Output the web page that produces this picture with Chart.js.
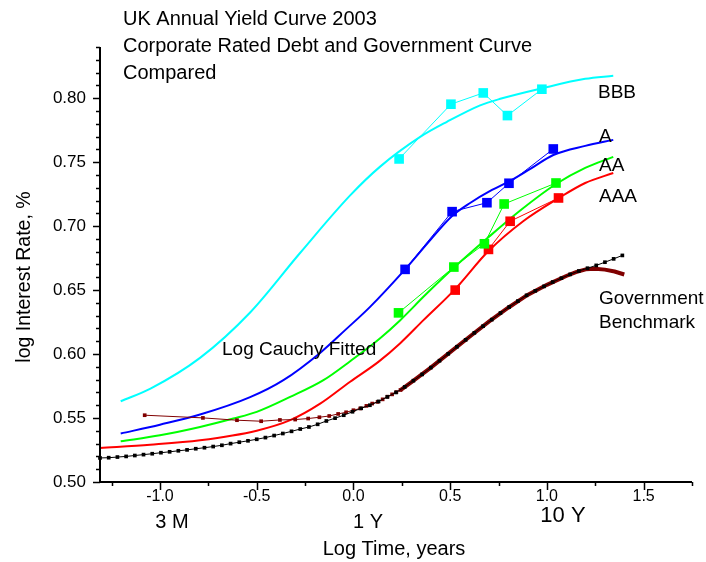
<!DOCTYPE html>
<html>
<head>
<meta charset="utf-8">
<title>UK Annual Yield Curve 2003</title>
<script src="https://cdn.jsdelivr.net/npm/chart.js@4.4.1/dist/chart.umd.min.js"></script>
<style>
  html, body { margin: 0; padding: 0; background: #ffffff; }
  #wrap { width: 706px; height: 562px; }
</style>
</head>
<body>
<div id="wrap"><canvas id="chart" width="706" height="562"></canvas></div>
<script>
// ---- data: log10(maturity in years) vs log10(yield %) ----

// Government benchmark curve (dotted black)
const govX = [-1.310, -1.265, -1.220, -1.175, -1.130, -1.085, -1.040, -0.995, -0.950, -0.905,
              -0.860, -0.815, -0.770, -0.725, -0.680, -0.635, -0.590, -0.545, -0.500, -0.455,
              -0.410, -0.365, -0.320, -0.275, -0.230, -0.185, -0.140, -0.095, -0.050, -0.005,
               0.040,  0.085,  0.130,  0.175,  0.220,  0.265,  0.310,  0.355,  0.400,  0.445,
               0.490,  0.535,  0.580,  0.625,  0.670,  0.715,  0.760,  0.805,  0.850,  0.895,
               0.940,  0.985,  1.030,  1.075,  1.120,  1.165,  1.210,  1.255,  1.300,  1.345,
               1.390];
const govY = [0.5188, 0.5190, 0.5195, 0.5200, 0.5207, 0.5214, 0.5221, 0.5229, 0.5236, 0.5244,
              0.5251, 0.5260, 0.5268, 0.5277, 0.5287, 0.5300, 0.5311, 0.5322, 0.5334, 0.5347,
              0.5363, 0.5379, 0.5396, 0.5414, 0.5430, 0.5451, 0.5477, 0.5499, 0.5522, 0.5549,
              0.5576, 0.5600, 0.5630, 0.5665, 0.5700, 0.5743, 0.5792, 0.5841, 0.5894, 0.5948,
              0.6002, 0.6057, 0.6111, 0.6166, 0.6218, 0.6269, 0.6321, 0.6368, 0.6414, 0.6459,
              0.6494, 0.6529, 0.6563, 0.6593, 0.6623, 0.6649, 0.6671, 0.6693, 0.6718, 0.6744,
              0.6771];

// Government monthly spot rates (wine), months 1..21 then longer maturities
const govMonthlyX = [-1.079, -0.778, -0.602, -0.477, -0.380, -0.301, -0.234, -0.176, -0.125, -0.079,
                     -0.038,  0.000,  0.035,  0.067,  0.097,  0.125,  0.151,  0.176,  0.200,  0.222,
                      0.243,  0.300,  0.400,  0.500,  0.600,  0.700,  0.800,  0.900,  1.000,  1.100,
                      1.150,  1.200,  1.250,  1.300,  1.350,  1.400];
const govMonthlyY = [0.5522, 0.5501, 0.5483, 0.5475, 0.5485, 0.5488, 0.5496, 0.5506, 0.5516, 0.5532,
                     0.5545, 0.5561, 0.5575, 0.5595, 0.5613, 0.5626, 0.5646, 0.5667, 0.5685, 0.5703,
                     0.5719, 0.5781, 0.5894, 0.6015, 0.6135, 0.6253, 0.6362, 0.6462, 0.6541, 0.6610,
                     0.6640, 0.6662, 0.6666, 0.6660, 0.6645, 0.6622];
const govMonthlyMarked = 21;   // the first 21 points are shown with markers

// Corporate bond observations by rating
const bbbX = [0.236, 0.504, 0.671, 0.796, 0.974];
const bbbY = [0.7525, 0.7953, 0.8041, 0.7864, 0.8070];
const aX   = [0.267, 0.510, 0.690, 0.804, 1.033];
const aY   = [0.6662, 0.7113, 0.7183, 0.7335, 0.7603];
const aaX  = [0.233, 0.519, 0.677, 0.779, 1.047];
const aaY  = [0.6322, 0.6680, 0.6862, 0.7173, 0.7337];
const aaaX = [0.526, 0.698, 0.810, 1.060];
const aaaY = [0.6500, 0.6818, 0.7038, 0.7220];

// Log Cauchy fitted curves
const bbbFitX = [-1.203, -1.049, -0.793, -0.534, -0.276, -0.017, 0.138, 0.345, 0.483, 0.655, 0.759, 0.974, 1.198, 1.343];
const bbbFitY = [0.5631, 0.5730, 0.5970, 0.6325, 0.6790, 0.7240, 0.7465, 0.7697, 0.7815, 0.7944, 0.7995, 0.8077, 0.8151, 0.8175];
const aFitX = [-1.203, -1.000, -0.793, -0.534, -0.362, -0.171, -0.043, 0.086, 0.267, 0.397, 0.510, 0.603, 0.707, 0.805, 0.914, 1.033, 1.198, 1.343];
const aFitY = [0.5379, 0.5448, 0.5527, 0.5663, 0.5796, 0.6011, 0.6187, 0.6369, 0.6662, 0.6891, 0.7079, 0.7181, 0.7275, 0.7349, 0.7447, 0.7556, 0.7627, 0.7674];
const aaFitX = [-1.203, -1.000, -0.793, -0.621, -0.500, -0.327, -0.155, -0.017, 0.138, 0.242, 0.371, 0.517, 0.690, 0.862, 1.047, 1.198, 1.343];
const aaFitY = [0.5318, 0.5365, 0.5430, 0.5496, 0.5548, 0.5665, 0.5796, 0.5944, 0.6124, 0.6265, 0.6461, 0.6672, 0.6903, 0.7122, 0.7329, 0.7455, 0.7541];
const aaaFitX = [-1.310, -1.051, -0.793, -0.500, -0.327, -0.172, -0.017, 0.129, 0.242, 0.362, 0.526, 0.698, 0.879, 1.060, 1.198, 1.343];
const aaaFitY = [0.5266, 0.5291, 0.5326, 0.5401, 0.5483, 0.5612, 0.5784, 0.5939, 0.6085, 0.6265, 0.6508, 0.6805, 0.7040, 0.7218, 0.7337, 0.7415];

// Axis ticks
const xTicks = [-1.0, -0.5, 0.0, 0.5, 1.0, 1.5];
const yTicks = [0.50, 0.55, 0.60, 0.65, 0.70, 0.75, 0.80];

const titleLines = ['UK Annual Yield Curve 2003', 'Corporate Rated Debt and Government Curve', 'Compared'];

// ---- helpers ----
const pts = (xs, ys) => xs.map((v, i) => ({ x: v, y: ys[i] }));
const FONT = '"Liberation Sans", Arial, Helvetica, sans-serif';

function observed(xs, ys, color, order) {
  return {
    data: pts(xs, ys), showLine: true, order,
    borderColor: color, borderWidth: 1,
    pointStyle: 'rect', pointRadius: 6.8, pointBackgroundColor: color,
    pointBorderColor: color, pointBorderWidth: 0, clip: false
  };
}
function fitted(xs, ys, color, order) {
  return {
    data: pts(xs, ys), showLine: true, order,
    borderColor: color, borderWidth: 2, pointRadius: 0,
    cubicInterpolationMode: 'monotone', clip: false
  };
}

// Axis lines, tick marks and free text
const decorations = {
  id: 'decorations',
  afterDraw(chart) {
    const { ctx, chartArea: ca, scales: { x, y } } = chart;
    ctx.save();
    ctx.strokeStyle = '#000';
    ctx.lineWidth = 2;
    ctx.beginPath();
    ctx.moveTo(ca.left, ca.top);
    ctx.lineTo(ca.left, ca.bottom);
    ctx.lineTo(ca.right, ca.bottom);
    ctx.stroke();

    ctx.lineWidth = 1.5;
    ctx.beginPath();
    for (let i = 50; i <= 84; i++) {
      const py = Math.round(y.getPixelForValue(i / 100)) + 0.5;
      const len = (i % 5 === 0) ? 7 : 4;
      ctx.moveTo(ca.left, py); ctx.lineTo(ca.left - len, py);
    }
    for (let i = -5; i <= 7; i++) {
      const px = Math.round(x.getPixelForValue(i * 0.25)) + 0.5;
      const len = (i % 2 === 0) ? 8 : 4;
      ctx.moveTo(px, ca.bottom); ctx.lineTo(px, ca.bottom + len);
    }
    ctx.stroke();

    ctx.fillStyle = '#000';
    ctx.textBaseline = 'middle';
    const text = (s, px, py, size, align) => {
      ctx.font = size + 'px ' + FONT;
      ctx.textAlign = align || 'left';
      ctx.fillText(s, px, py);
    };
    titleLines.forEach((s, i) => text(s, 123, 19 + i * 27, 20));

    text('BBB', 598, 93, 19);
    text('A', 599, 137, 19);
    text('AA', 599, 166, 19);
    text('AAA', 599, 197, 19);
    text('Government', 599, 299, 19);
    text('Benchmark', 599, 323, 19);
    text('Log Cauchy Fitted', 222, 350, 19);

    text('3 M', 172, 522, 20, 'center');
    text('1 Y', 368, 522, 20, 'center');
    text('10 Y', 563, 516, 22, 'center');
    text('Log Time, years', 394, 549, 20, 'center');

    ctx.translate(25, 277);
    ctx.rotate(-Math.PI / 2);
    text('log Interest Rate, %', 0, 0, 19.5, 'center');
    ctx.restore();
  }
};

new Chart(document.getElementById('chart'), {
  type: 'scatter',
  data: {
    datasets: [
      {
        data: pts(govX, govY), showLine: true, order: 1,
        borderColor: '#000000', borderWidth: 1,
        pointStyle: 'rect', pointRadius: 2.6, pointBackgroundColor: '#000000',
        pointBorderWidth: 0, clip: false
      },
      {
        data: pts(govMonthlyX, govMonthlyY), showLine: true, order: 2,
        borderColor: '#800000', borderWidth: 1,
        segment: { borderWidth: c => (c.p0DataIndex >= govMonthlyMarked - 1 ? 4 : 1) },
        pointStyle: 'rect',
        pointRadius: c => (c.dataIndex < govMonthlyMarked ? 2.6 : 0),
        pointBackgroundColor: '#800000', pointBorderWidth: 0, clip: false
      },
      observed(bbbX, bbbY, '#00FFFF', 3),
      observed(aX, aY, '#0000FF', 3),
      observed(aaX, aaY, '#00FF00', 3),
      observed(aaaX, aaaY, '#FF0000', 3),
      fitted(bbbFitX, bbbFitY, '#00FFFF', 5),
      fitted(aFitX, aFitY, '#0000FF', 5),
      fitted(aaFitX, aaFitY, '#00FF00', 5),
      fitted(aaaFitX, aaaFitY, '#FF0000', 5)
    ]
  },
  options: {
    responsive: false,
    animation: false,
    events: [],
    layout: { padding: { left: 0, right: 14, top: 47, bottom: 0 } },
    plugins: { legend: { display: false }, tooltip: { enabled: false }, title: { display: false } },
    scales: {
      x: {
        type: 'linear', min: -1.31, max: 1.75,
        afterBuildTicks: s => { s.ticks = xTicks.map(v => ({ value: v })); },
        afterFit: s => { s.height = 80; },
        ticks: {
          callback: v => v.toFixed(1), color: '#000', padding: -3,
          font: { family: FONT, size: 16 }, maxRotation: 0, autoSkip: false
        },
        grid: { display: false },
        border: { display: false }
      },
      y: {
        type: 'linear', min: 0.50, max: 0.84,
        afterBuildTicks: s => { s.ticks = yTicks.map(v => ({ value: v })); },
        afterFit: s => { s.width = 100; },
        ticks: {
          callback: v => v.toFixed(2), color: '#000', padding: 6,
          font: { family: FONT, size: 17 }
        },
        grid: { display: false },
        border: { display: false }
      }
    }
  },
  plugins: [decorations]
});
</script>
</body>
</html>
